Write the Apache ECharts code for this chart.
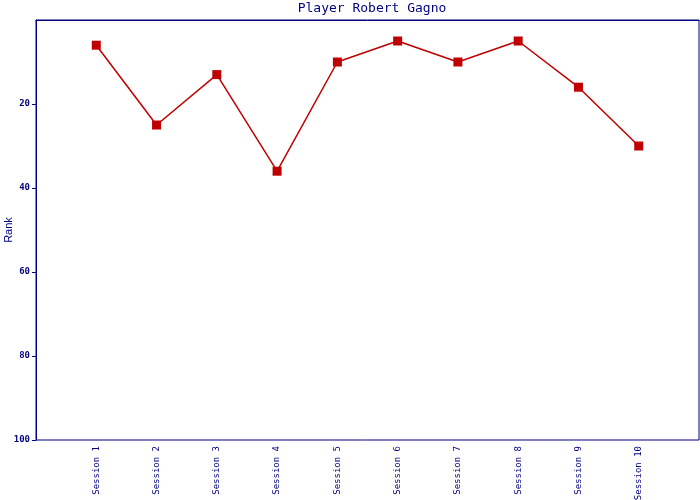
<!DOCTYPE html>
<html><head><meta charset="utf-8">
<script src="https://cdn.jsdelivr.net/npm/echarts@6/dist/echarts.min.js"></script>
<style>html,body{margin:0;padding:0;background:#fff}#c{width:700px;height:500px}</style>
</head><body><div id="c"></div>
<script>
const sessions = ['Session 1','Session 2','Session 3','Session 4','Session 5','Session 6','Session 7','Session 8','Session 9','Session 10'];
const ranks = [6, 25, 13, 36, 10, 5, 10, 5, 16, 30];
const yTicks = [20, 40, 60, 80, 100];

const navy = '#000080';
const red = '#c00000';
const font = 'DejaVu Sans Mono';
const chart = echarts.init(document.getElementById('c'));
chart.setOption({
  animation: false,
  title: { text: 'Player Robert Gagno', left: 367, textAlign: 'center', top: -3,
    textStyle: { color: navy, fontFamily: font, fontWeight: 'normal', fontSize: 13 } },
  grid: { left: 36, right: 1, top: 20, bottom: 60, show: true, borderColor: navy, borderWidth: 1,
    backgroundColor: '#fff', containLabel: false, outerBoundsMode: 'none' },
  xAxis: {
    type: 'value', min: 0, max: sessions.length + 1, interval: 1,
    axisLine: { show: true, lineStyle: { color: navy } },
    axisTick: { show: false },
    splitLine: { show: false },
    axisLabel: { rotate: 90, color: navy, fontFamily: font, fontSize: 9, margin: 6,
      formatter: v => (v >= 1 && v <= sessions.length) ? sessions[v - 1] : '' }
  },
  yAxis: {
    type: 'value', inverse: true, min: 0, max: 100, interval: 20,
    name: 'Rank', nameLocation: 'middle', nameGap: 22, nameRotate: 90, nameMoveOverlap: false,
    nameTextStyle: { color: navy, fontFamily: 'Liberation Sans', fontSize: 11 },
    axisLine: { show: true, lineStyle: { color: navy } },
    axisTick: { show: true, length: 4, lineStyle: { color: navy }, customValues: yTicks },
    splitLine: { show: false },
    axisLabel: { color: navy, fontFamily: font, fontSize: 9, fontWeight: 'bold', margin: 6,
      customValues: yTicks,
      formatter: v => yTicks.includes(v) ? String(v) : '' }
  },
  series: [{
    type: 'line',
    data: ranks.map((r, i) => [i + 1, r]),
    symbol: 'rect', symbolSize: 9,
    lineStyle: { color: red, width: 1.5 },
    itemStyle: { color: red },
    z: 3
  }]
});
</script></body></html>
